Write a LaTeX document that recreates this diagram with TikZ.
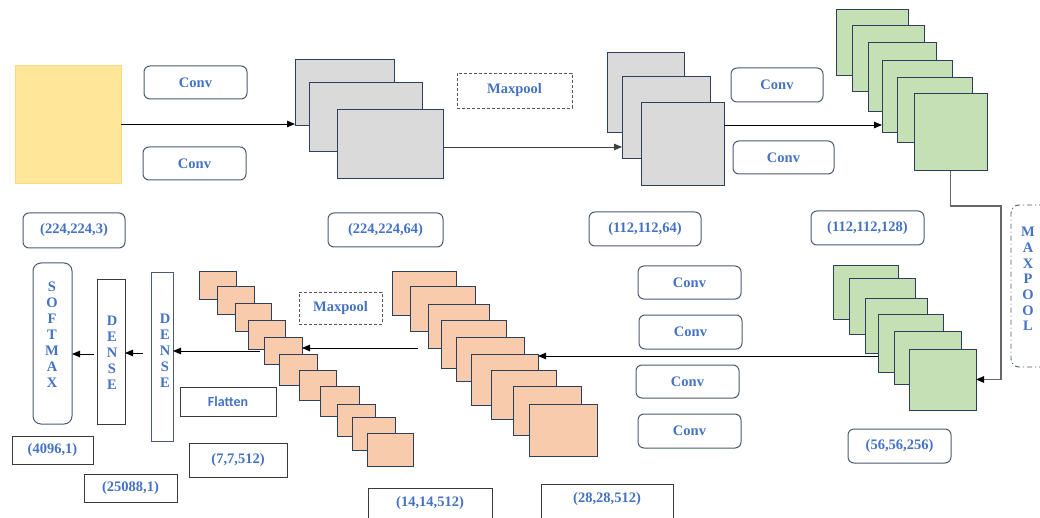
\documentclass[tikz,border=0pt]{standalone}
\usepackage{fontspec}
\setmainfont{Liberation Serif}
\newfontfamily\flatfont{Carlito}
\usetikzlibrary{arrows.meta}
\definecolor{yelf}{HTML}{FFE699}
\definecolor{gryf}{HTML}{DADADA}
\definecolor{grnf}{HTML}{C5E0B4}
\definecolor{orgf}{HTML}{F8CBAD}
\definecolor{stkb}{HTML}{2E3F5E}
\definecolor{rbb}{HTML}{4D5A70}
\definecolor{sqb}{HTML}{3A3A3A}
\definecolor{tb}{HTML}{4472C4}
\definecolor{dsh}{HTML}{555555}
\newcommand{\bx}[7]{%
  \pgfmathsetmacro\cxx{(#3+#5)/2}%
  \pgfmathsetmacro\cyy{(#4+#6)/2}%
  \pgfmathsetmacro\ww{#5-#3}%
  \pgfmathsetmacro\hh{#6-#4}%
  \node[#2, minimum width=\ww pt, minimum height=\hh pt] (#1) at (\cxx,\cyy) {#7};}
\tikzset{
  txt/.style={text=tb, font=\fontsize{14.5}{16}\selectfont\bfseries},
  stk/.style={draw=stkb, line width=1pt, inner sep=0pt, outer sep=0pt},
  yelbox/.style={fill=yelf, draw=yelf!85!orange, line width=0.5pt, inner sep=0pt, outer sep=0pt},
  gry/.style={stk, fill=gryf},
  grn/.style={stk, fill=grnf},
  org/.style={stk, fill=orgf},
  rbox/.style={draw=rbb, line width=1pt, rounded corners=6pt, inner sep=0pt, outer sep=0pt, txt},
  sbox/.style={draw=sqb, line width=1pt, inner sep=0pt, outer sep=0pt, txt},
  dbox/.style={draw=dsh, line width=0.9pt, dash pattern=on 3pt off 2pt, inner sep=0pt, outer sep=0pt, txt},
  ddbox/.style={draw=rbb, line width=0.9pt, dash pattern=on 5pt off 3pt on 1pt off 3pt, rounded corners=8pt, inner sep=0pt, outer sep=0pt},
  vtxt/.style={txt, align=center, inner sep=0pt},
  arr/.style={-{Triangle[length=8pt,width=6.5pt]}, line width=0.9pt, black},
  garr/.style={-{Triangle[length=8pt,width=6.5pt,color=black]}, line width=1.2pt, black!60},
}
\begin{document}
\begin{tikzpicture}[x=1pt,y=-1pt]
\useasboundingbox (0,0) rectangle (1040,518);
\clip (0,0) rectangle (1040,518);
\fill[white] (0,0) rectangle (1040,518);

% input
\bx{in}{yelbox}{15}{65}{121}{183}{}
\bx{c1}{rbox}{144}{66}{247}{99}{Conv}
\bx{c2}{rbox}{143}{147}{246}{180}{Conv}
\bx{d0}{rbox}{23}{213}{125}{248}{(224,224,3)}

% gray stack 1
\bx{g1a}{gry}{295}{60}{394}{126}{}
\bx{g1b}{gry}{309}{83}{422}{152}{}
\bx{g1c}{gry}{337}{110}{443}{179}{}
\bx{mp1}{dbox}{457}{73}{572}{108}{Maxpool}
\bx{d1}{rbox}{328}{213}{443}{247}{(224,224,64)}

% gray stack 2
\bx{g2a}{gry}{607}{53}{684}{133}{}
\bx{g2b}{gry}{622}{77}{710}{159}{}
\bx{g2c}{gry}{641}{103}{724}{186}{}
\bx{c3}{rbox}{731}{68}{823}{102}{Conv}
\bx{c4}{rbox}{733}{141}{834}{174}{Conv}
\bx{d2}{rbox}{589}{212}{701}{246}{(112,112,64)}

% green stack 1
\bx{ga}{grn}{836}{10}{908}{76}{}
\bx{gb}{grn}{852}{26}{924}{92}{}
\bx{gc}{grn}{868}{43}{936}{112}{}
\bx{gd}{grn}{882}{61}{952}{133}{}
\bx{ge}{grn}{897}{78}{972}{143}{}
\bx{gf}{grn}{914}{94}{987}{171}{}
\bx{d3}{rbox}{811}{211}{924}{245}{(112,112,128)}

% maxpool vertical
\bx{mpv}{ddbox}{1011}{205}{1052}{367}{}
\node[vtxt, font=\fontsize{14.5}{15.7}\selectfont\bfseries] (mpvt) at (1028,279) {M\\A\\X\\P\\O\\O\\L};

% green stack 2
\bx{ha}{grn}{833}{266}{898}{319}{}
\bx{hb}{grn}{849}{279}{915}{334}{}
\bx{hc}{grn}{865}{298}{927}{353}{}
\bx{hd}{grn}{878}{314}{943}{372}{}
\bx{he}{grn}{894}{331}{961}{384}{}
\bx{hf}{grn}{909}{349}{976}{410}{}
\bx{d4}{rbox}{848}{429}{951}{463}{(56,56,256)}

% conv boxes lower
\bx{c5}{rbox}{638}{266}{741}{299}{Conv}
\bx{c6}{rbox}{639}{315}{742}{349}{Conv}
\bx{c7}{rbox}{636}{365}{739}{398}{Conv}
\bx{c8}{rbox}{638}{414}{741}{448}{Conv}

% orange stack 2
\bx{pa}{org}{392}{272}{456}{315}{}
\bx{pb}{org}{410}{287}{475}{331}{}
\bx{pc}{org}{428}{304}{489}{348}{}
\bx{pd}{org}{441}{320}{506}{368}{}
\bx{pe}{org}{456}{337}{524}{381}{}
\bx{pf}{org}{471}{354}{538}{405}{}
\bx{pg}{org}{491}{370}{556}{419}{}
\bx{ph}{org}{513}{386}{581}{435}{}
\bx{pi}{org}{529}{404}{597}{456}{}

% orange stack 1
\bx{qa}{org}{199}{272}{236}{299}{}
\bx{qb}{org}{217}{287}{254}{314}{}
\bx{qc}{org}{235}{303}{271}{331}{}
\bx{qd}{org}{248}{320}{285}{349}{}
\bx{qe}{org}{264}{337}{302}{364}{}
\bx{qf}{org}{279}{354}{317}{385}{}
\bx{qg}{org}{299}{370}{336}{400}{}
\bx{qh}{org}{320}{386}{359}{416}{}
\bx{qi}{org}{337}{404}{375}{436}{}
\bx{qj}{org}{352}{417}{395}{450}{}
\bx{qk}{org}{367}{433}{413}{466}{}

\bx{mp2}{dbox}{299}{292}{382}{324}{Maxpool}
\bx{fl}{sbox, font=\fontsize{14}{16}\selectfont\flatfont\bfseries}{180}{387}{276}{416}{Flatten}
\bx{d5}{sbox}{189}{443}{287}{477}{(7,7,512)}

% dense + softmax
\bx{de1}{draw=rbb, line width=1pt, inner sep=0pt, outer sep=0pt}{151}{273}{173}{441}{}
\node[vtxt] (de1t) at (165,351) {D\\E\\N\\S\\E};
\bx{de2}{draw=sqb, line width=1pt, inner sep=0pt, outer sep=0pt}{97}{280}{125}{424}{}
\node[vtxt] (de2t) at (112,353) {D\\E\\N\\S\\E};
\bx{sm}{draw=rbb, line width=1pt, rounded corners=8pt, inner sep=0pt, outer sep=0pt}{33}{263}{72}{424}{}
\node[vtxt] (smt) at (52,335) {S\\O\\F\\T\\M\\A\\X};

\bx{d6}{sbox}{12}{436}{93}{464}{(4096,1)}
\bx{d7}{sbox}{84}{474}{177}{502}{(25088,1)}
\bx{d8}{sbox}{368}{488}{492}{530}{}
\node[txt] (d8t) at (430,503) {(14,14,512)};
\bx{d9}{sbox}{541}{484}{673}{530}{}
\node[txt] (d9t) at (607,499) {(28,28,512)};

% connectors
\coordinate (a1) at (0,124);
\draw[arr] (in.east |- a1) -- (g1a.west |- a1);
\coordinate (a2) at (0,147);
\draw[arr, black!75] (g1c.east |- a2) -- (g2b.west |- a2);
\coordinate (a3) at (0,125);
\draw[arr] (g2c.east |- a3) -- (gd.west |- a3);
\coordinate (mpc) at (1001,206);
\draw[garr] (gf.south) |- (mpc) |- (hf.east);
\coordinate (a5) at (0,356);
\draw[arr] (hd.west |- a5) -- (pf.east |- a5);
\coordinate (a6) at (418,348);
\draw[arr] (a6) -- (qe.east |- a6);
\coordinate (a7) at (260,351);
\draw[arr] (a7) -- (de1.east |- a7);
\coordinate (a8) at (143,353);
\draw[arr] (a8) -- (de2.east |- a8);
\coordinate (a9) at (94,354);
\draw[arr] (a9) -- (sm.east |- a9);
\end{tikzpicture}
\end{document}
